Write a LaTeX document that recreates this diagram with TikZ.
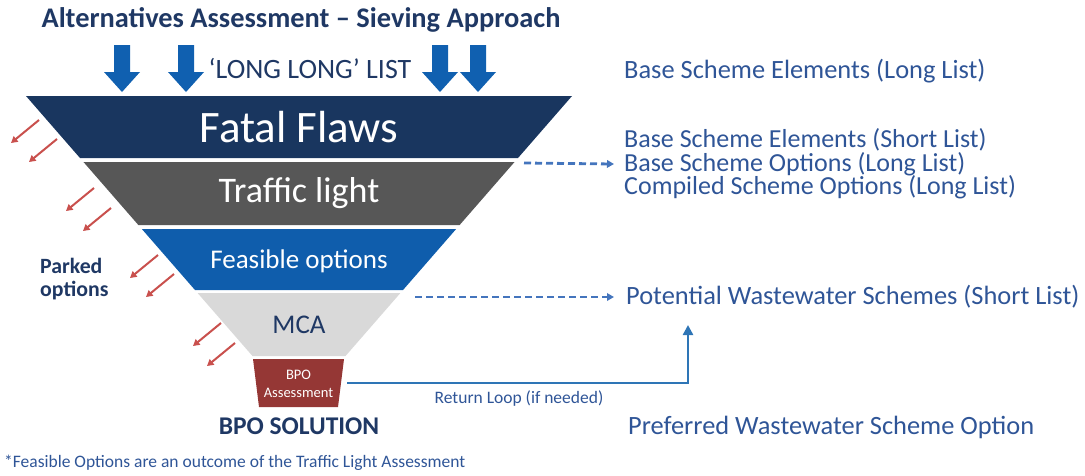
\documentclass[tikz,border=0pt]{standalone}
\usepackage{fontspec}
\setmainfont{Carlito}
\usetikzlibrary{arrows.meta}

\definecolor{navy}{HTML}{1F3864}
\definecolor{textblue}{HTML}{2F5597}
\definecolor{flawblue}{HTML}{19365F}
\definecolor{trafficgrey}{HTML}{575757}
\definecolor{feasblue}{HTML}{0F5DAC}
\definecolor{mcagrey}{HTML}{D9D9D9}
\definecolor{bpored}{HTML}{953735}
\definecolor{dropblue}{HTML}{1060B0}
\definecolor{parkred}{HTML}{C9504D}
\definecolor{linkblue}{HTML}{4475BD}
\definecolor{loopblue}{HTML}{2E75B6}

\newcommand\fsz[1]{\fontsize{#1}{#1}\selectfont}
% left and right edges of the funnel at height #1
\newcommand\fl[1]{26+0.871*(#1-96)}
\newcommand\fr[1]{572-0.871*(#1-96)}

\tikzset{
  bandtext/.style={inner sep=0pt, anchor=center},
  sidetext/.style={inner sep=0pt, anchor=west, text=textblue, font=\fsz{26.4}},
  dropstyle/.style={fill=dropblue},
  parkarrow/.style={draw=parkred, line width=2pt, -{Triangle[length=6.5pt,width=7pt]}},
  dashlink/.style={draw=linkblue, line width=2.8pt, dash pattern=on 7pt off 4pt,
    -{Triangle[length=7pt,width=7.5pt]}},
  looplink/.style={draw=loopblue, line width=2.4pt, -{Triangle[length=10pt,width=10pt]}},
}

\begin{document}
\begin{tikzpicture}[x=1pt,y=-1pt]
\useasboundingbox (0,0) rectangle (1085,475);

% heading
\node[bandtext, text=navy, font=\bfseries\fsz{28.4}] (title) at (301,20)
  {Alternatives Assessment – Sieving Approach};

% block arrows feeding the funnel
\foreach \x in {122,186,440,478}{
  \fill[dropstyle] ({\x-8},45) -- ({\x+8},45) -- ({\x+8},72) -- ({\x+18},72)
    -- (\x,92) -- ({\x-18},72) -- ({\x-8},72) -- cycle;
}
\node[bandtext, text=navy, font=\fsz{28}] (longlist) at (310,68) {‘LONG LONG’ LIST};

% funnel bands
\fill[flawblue] ({\fl{96}},96) -- ({\fr{96}},96) -- ({\fr{158}},158) -- ({\fl{158}},158) -- cycle;
\fill[trafficgrey] ({\fl{162}},162) -- ({\fr{162}},162) -- ({\fr{225}},225) -- ({\fl{225}},225) -- cycle;
\fill[feasblue] ({\fl{229}},229) -- ({\fr{229}},229) -- ({\fr{290}},290) -- ({\fl{290}},290) -- cycle;
\fill[mcagrey] ({\fl{293}},293) -- ({\fr{293}},293) -- ({\fr{356}},356) -- ({\fl{356}},356) -- cycle;
\fill[bpored] (253,359) -- (344,359) -- (338,407) -- (259,407) -- cycle;

\node[bandtext, text=white, font=\fsz{45}] (flaws) at (299,127) {Fatal Flaws};
\node[bandtext, text=white, font=\fsz{36}] (traffic) at (299,193) {Traffic light};
\node[bandtext, text=white, font=\fsz{27}] (feasible) at (299,261) {Feasible options};
\node[bandtext, text=navy, font=\fsz{27}] (mca) at (299,325) {MCA};
\node[bandtext, text=white, font=\fsz{14.5}, align=center] (bpo) at (298.5,384)
  {BPO\\[3pt]Assessment};
\node[bandtext, text=navy, font=\bfseries\fsz{25.5}] (solution) at (299,426) {BPO SOLUTION};

% parked options
\node[bandtext, text=navy, font=\bfseries\fsz{21.8}, align=left, anchor=west] (parked)
  at (40,279) {Parked\\[2pt]options};
\foreach \sx/\sy in {39/120, 57/139, 94/188, 111/208, 158/255, 174/274, 221/323, 235/343}{
  \draw[parkarrow] (\sx,\sy) -- ({\sx-28},{\sy+23});
}

% outcomes on the right
\node[sidetext] (longbase) at (624,71) {Base Scheme Elements (Long List)};
\node[sidetext, align=left, font=\fontsize{26}{23.5}\selectfont] (shortlist) at (624,164)
  {Base Scheme Elements (Short List)\\Base Scheme Options (Long List)\\Compiled Scheme Options (Long List)};
\node[sidetext] (potential) at (626,297) {Potential Wastewater Schemes (Short List)};
\node[sidetext] (preferred) at (628,427) {Preferred Wastewater Scheme Option};

\coordinate (flawout) at (524,163);
\coordinate (mcaout) at (415,297);
\draw[dashlink] (flawout) -- ([xshift=-10pt]shortlist.west);
\draw[dashlink] (mcaout) -- ([xshift=-12pt]potential.west);

% return loop
\coordinate (loopstart) at (347,383);
\coordinate (loopend) at (688,325);
\draw[looplink] (loopstart) -| (loopend);
\node[bandtext, text=textblue, font=\fsz{17.5}] (returnloop) at (519,399) {Return Loop (if needed)};

% footnote
\node[sidetext, font=\fsz{17.5}] (footnote) at (4,463)
  {*Feasible Options are an outcome of the Traffic Light Assessment};
\end{tikzpicture}
\end{document}
